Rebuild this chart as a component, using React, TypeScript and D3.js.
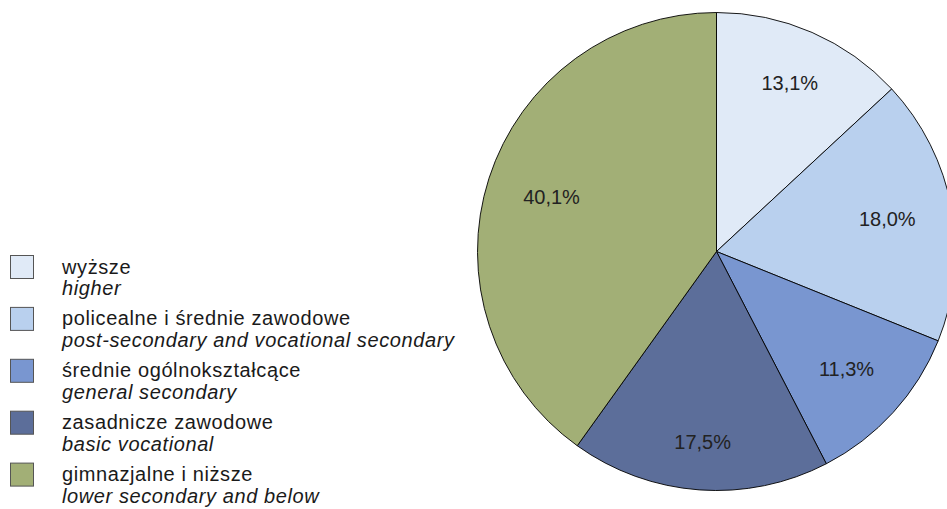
import React from "react";
import * as d3 from "d3";

const categoriesPl = [
  "wyższe",
  "policealne i średnie zawodowe",
  "średnie ogólnokształcące",
  "zasadnicze zawodowe",
  "gimnazjalne i niższe",
];
const categoriesEn = [
  "higher",
  "post-secondary and vocational secondary",
  "general secondary",
  "basic vocational",
  "lower secondary and below",
];
const values = [13.1, 18.0, 11.3, 17.5, 40.1];
const labels = ["13,1%", "18,0%", "11,3%", "17,5%", "40,1%"];
const colors = ["#e0eaf7", "#b9d0ee", "#7996d0", "#5c6e9a", "#a2af76"];

const W = 947;
const H = 509;
const CX = 716.5;
const CY = 251.5;
const R = 239;
// label boxes sit inside the pie with their outer edge near this radius
const LABEL_EDGE_R = 204;
const LABEL_HALF_W = 29;
const LABEL_HALF_H = 10;
const FONT = "'Liberation Sans', Arial, Helvetica, sans-serif";

export default function App() {
  const pie = d3
    .pie<number>()
    .sort(null)
    .value((d) => d)
    .startAngle(0)
    .endAngle(2 * Math.PI);
  const arcs = pie(values);
  const arc = d3.arc<d3.PieArcDatum<number>>().innerRadius(0).outerRadius(R);

  const labelPos = (a: d3.PieArcDatum<number>) => {
    const mid = (a.startAngle + a.endAngle) / 2;
    const ux = Math.sin(mid);
    const uy = -Math.cos(mid);
    const r = LABEL_EDGE_R - (LABEL_HALF_W * Math.abs(ux) + LABEL_HALF_H * Math.abs(uy));
    return [ux * r, uy * r];
  };

  const legendX = 10.5;
  const legendTop = 255.5;
  const rowStep = 51.9;
  const sw = 23;
  const textX = 62;

  return (
    <svg
      width={W}
      height={H}
      style={{ position: "absolute", left: 0, top: 0, display: "block", background: "#fff" }}
    >
      <g transform={`translate(${CX},${CY})`}>
        {arcs.map((a, i) => (
          <path key={i} d={arc(a) || ""} fill={colors[i]} stroke="#000" strokeWidth={0.9} />
        ))}
        {arcs.map((a, i) => {
          const [x, y] = labelPos(a);
          return (
            <text
              key={i}
              x={x}
              y={y}
              dy="0.3em"
              textAnchor="middle"
              fontFamily={FONT}
              fontSize={20}
              fill="#222"
            >
              {labels[i]}
            </text>
          );
        })}
      </g>
      <g>
        {categoriesPl.map((c, i) => {
          const y0 = legendTop + i * rowStep;
          return (
            <g key={i}>
              <rect
                x={legendX}
                y={y0}
                width={sw}
                height={sw}
                fill={colors[i]}
                stroke="#555"
                strokeWidth={1}
              />
              <text
                x={textX}
                y={y0 + 18}
                fontFamily={FONT}
                fontSize={20}
                letterSpacing={0.6}
                fill="#1a1a1a"
              >
                {c}
              </text>
              <text
                x={textX}
                y={y0 + 39.5}
                fontFamily={FONT}
                fontSize={20}
                letterSpacing={0.6}
                fontStyle="italic"
                fill="#1a1a1a"
              >
                {categoriesEn[i]}
              </text>
            </g>
          );
        })}
      </g>
    </svg>
  );
}
